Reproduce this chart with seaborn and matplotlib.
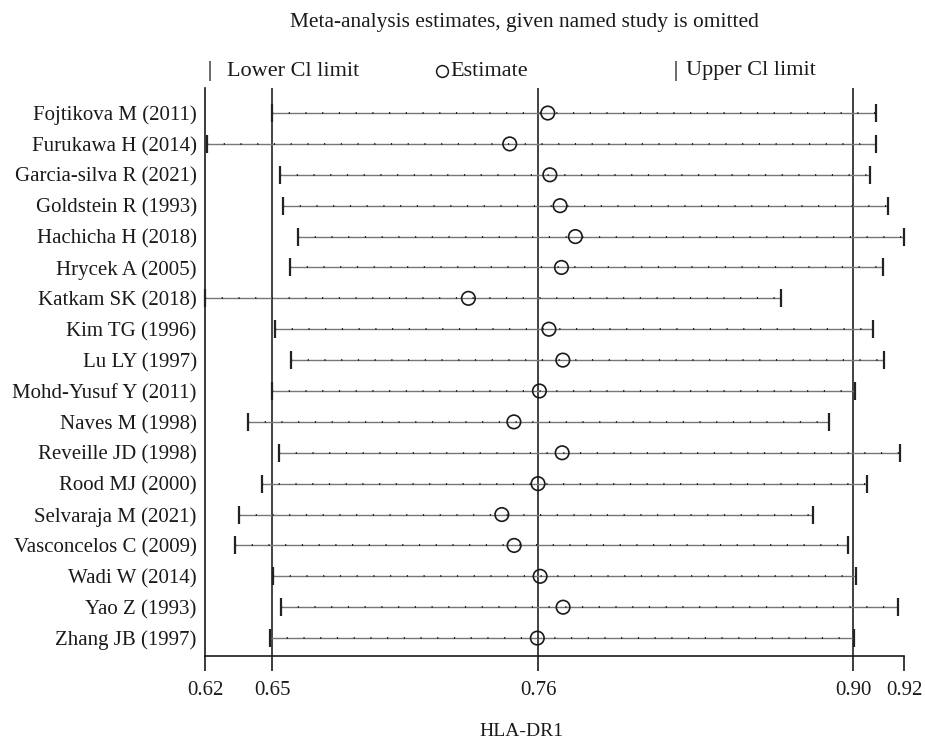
import matplotlib
matplotlib.use("Agg")
import matplotlib.pyplot as plt
from matplotlib.lines import Line2D
import seaborn as sns
import pandas as pd

# Leave-one-out meta-analysis (HLA-DR1): pooled estimate and 95% CI with each study omitted
studies = [
    "Fojtikova M (2011)", "Furukawa H (2014)", "Garcia-silva R (2021)",
    "Goldstein R (1993)", "Hachicha H (2018)", "Hrycek A (2005)",
    "Katkam SK (2018)", "Kim TG (1996)", "Lu LY (1997)",
    "Mohd-Yusuf Y (2011)", "Naves M (1998)", "Reveille JD (1998)",
    "Rood MJ (2000)", "Selvaraja M (2021)", "Vasconcelos C (2009)",
    "Wadi W (2014)", "Yao Z (1993)", "Zhang JB (1997)",
]
lower = [0.6474, 0.6195, 0.6508, 0.6523, 0.6587, 0.6551, 0.6185, 0.6487, 0.6557,
         0.6475, 0.6369, 0.6503, 0.6429, 0.6330, 0.6313, 0.6478, 0.6513, 0.6464]
estimate = [0.7662, 0.7498, 0.7671, 0.7715, 0.7781, 0.7721, 0.7320, 0.7667, 0.7727,
            0.7626, 0.7516, 0.7724, 0.7620, 0.7464, 0.7517, 0.7629, 0.7728, 0.7617]
upper = [0.9076, 0.9078, 0.9049, 0.9130, 0.9197, 0.9106, 0.8665, 0.9063, 0.9109,
         0.8988, 0.8873, 0.9178, 0.9038, 0.8806, 0.8957, 0.8991, 0.9172, 0.8982]

# Combined estimate over all studies
overall_lower, overall_est, overall_upper = 0.6474, 0.7622, 0.8979

title = "Meta-analysis estimates, given named study is omitted"
xlabel = "HLA-DR1"
legend_labels = ["Lower Cl limit", "Estimate", "Upper Cl limit"]

df = pd.DataFrame({"study": studies, "lower": lower, "estimate": estimate,
                   "upper": upper})
df["row"] = range(len(df))

sns.set_theme(style="white")
plt.rcParams["font.family"] = ["Liberation Serif", "DejaVu Serif"]
FS = 15
INK = "#1a1a1a"

fig = plt.figure(figsize=(9.25, 7.46), dpi=100)
ax = fig.add_axes([205 / 925, 90 / 746, 699 / 925, 568 / 746])

xmin, xmax = min(lower), max(upper)

# Reference lines at the overall CI limits and estimate
for v in (overall_lower, overall_est, overall_upper):
    ax.axvline(v, color="#333333", lw=1.3, zorder=1)

# CI segments: thin grey rule with a fine dotted texture
ax.hlines(df["row"], df["lower"], df["upper"], color="#777777", lw=1.0, zorder=2)
ax.hlines(df["row"], df["lower"], df["upper"], color="#222222", lw=1.4,
          linestyles=[(0, (0.6, 8.0))], zorder=2)

# End caps
sns.scatterplot(data=df, x="lower", y="row", marker="|", s=150, color="#222222",
                linewidth=1.6, ax=ax, zorder=3, clip_on=False, legend=False)
sns.scatterplot(data=df, x="upper", y="row", marker="|", s=150, color="#222222",
                linewidth=1.6, ax=ax, zorder=3, clip_on=False, legend=False)

# Point estimates
sns.scatterplot(data=df, x="estimate", y="row", marker="o", s=95,
                facecolor="none", edgecolor=INK, linewidth=1.2, ax=ax,
                zorder=4, clip_on=False, legend=False)

ax.set_xlim(xmin, xmax)
ax.set_ylim(len(df) - 1 + 0.58, -0.81)

ticks = [xmin, overall_lower, overall_est, overall_upper, xmax]
ax.set_xticks(ticks, labels=[f"{t:.2f}" for t in ticks])
ax.set_yticks(df["row"], labels=df["study"])
ax.tick_params(axis="x", direction="out", length=11, width=1.2, color=INK,
               labelsize=FS, labelcolor=INK, pad=7, bottom=True)
ax.tick_params(axis="y", length=0, labelsize=FS, labelcolor=INK, pad=6)
ax.set_xlabel("")
ax.set_ylabel("")

for side in ("top", "right"):
    ax.spines[side].set_visible(False)
for side in ("left", "bottom"):
    ax.spines[side].set_color(INK)
    ax.spines[side].set_linewidth(1.2)
ax.grid(False)

# Title and axis caption
fig.text(524 / 925, 1 - 22 / 746, title, ha="center", va="center",
         fontsize=15.4, color=INK)
fig.text(521 / 925, 1 - 731 / 746, xlabel, ha="center", va="center",
         fontsize=FS - 1, color=INK)

# Key across the top
ly = 1 - 71 / 746
fig.add_artist(Line2D([210 / 925], [ly], marker="|", markersize=14, mew=1.1,
                      color="#444444", transform=fig.transFigure))
fig.text(227 / 925, ly, legend_labels[0], ha="left", va="center",
         fontsize=16, color=INK)
fig.add_artist(Line2D([442 / 925], [ly], marker="o", markersize=8.5, mew=1.1,
                      mfc="none", mec=INK, transform=fig.transFigure))
fig.text(450 / 925, ly, legend_labels[1], ha="left", va="center",
         fontsize=16, color=INK)
fig.add_artist(Line2D([676 / 925], [ly], marker="|", markersize=14, mew=1.1,
                      color="#444444", transform=fig.transFigure))
fig.text(686 / 925, ly, legend_labels[2], ha="left", va="center",
         fontsize=16, color=INK)

fig.savefig("out.png", dpi=100, facecolor="white")
